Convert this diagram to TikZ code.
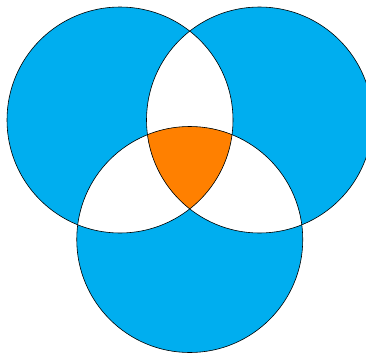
\documentclass[tikz,border=0pt]{standalone}
\definecolor{vennblue}{RGB}{0,174,239}
\definecolor{vennorange}{RGB}{255,128,0}
\begin{document}
\begin{tikzpicture}[x=1pt,y=-1pt,
  ring/.style={draw=black,line width=0.6pt}]
\useasboundingbox (0,0) rectangle (366,356);
\clip (0,0) rectangle (366,356);
\coordinate (L) at (120,120);
\coordinate (R) at (259.5,120);
\coordinate (B) at (189.75,239.5);
\def\rr{113}
\fill[vennblue,even odd rule] (L) circle[radius=\rr] (R) circle[radius=\rr] (B) circle[radius=\rr];
\begin{scope}
  \clip (L) circle[radius=\rr];
  \clip (R) circle[radius=\rr];
  \fill[vennorange] (B) circle[radius=\rr];
\end{scope}
\draw[ring] (L) circle[radius=\rr];
\draw[ring] (R) circle[radius=\rr];
\draw[ring] (B) circle[radius=\rr];
\end{tikzpicture}
\end{document}
